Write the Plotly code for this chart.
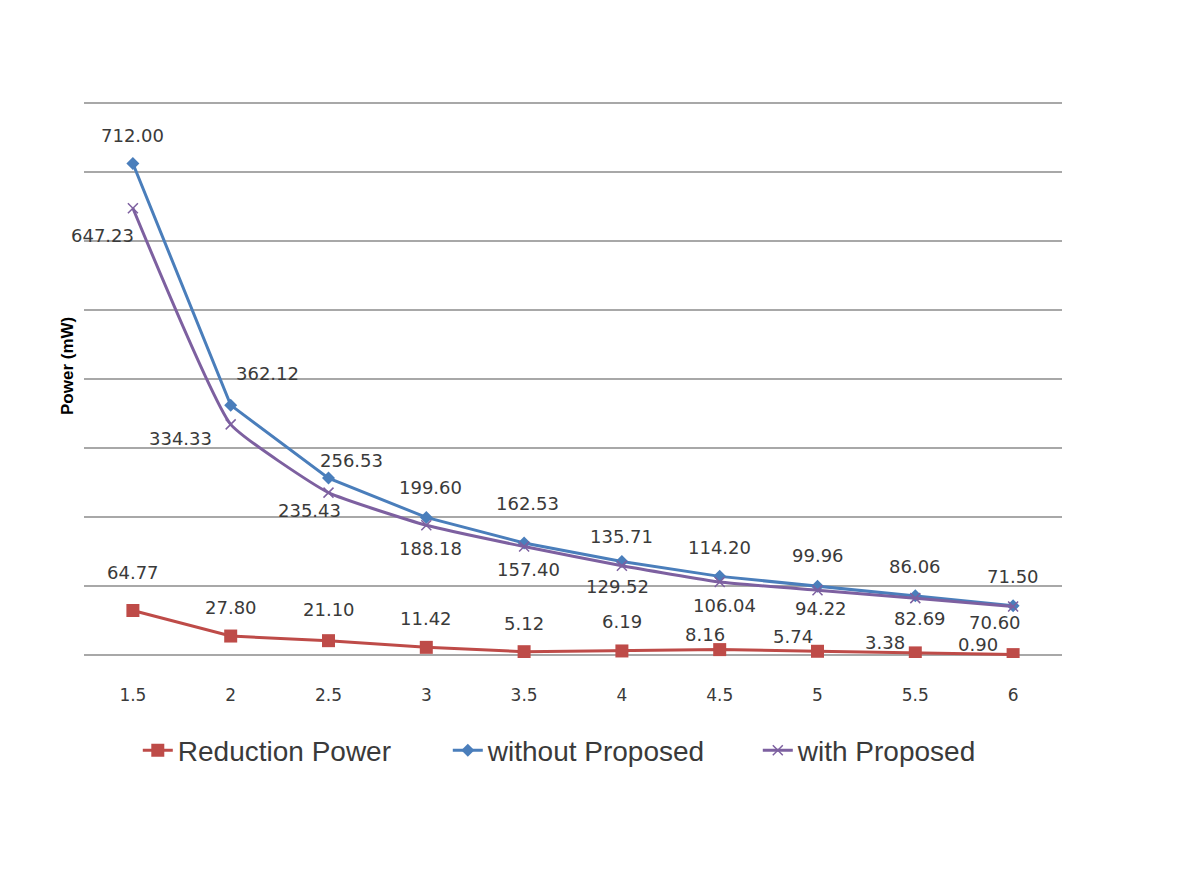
import plotly.graph_objects as go

categories = ["1.5", "2", "2.5", "3", "3.5", "4", "4.5", "5", "5.5", "6"]
reduction_power = [64.77, 27.80, 21.10, 11.42, 5.12, 6.19, 8.16, 5.74, 3.38, 0.90]
without_proposed = [712.00, 362.12, 256.53, 199.60, 162.53, 135.71, 114.20, 99.96, 86.06, 71.50]
with_proposed = [647.23, 334.33, 235.43, 188.18, 157.40, 129.52, 106.04, 94.22, 82.69, 70.60]

# label offsets in pixels (dx, dy with dy downward)
off_red = [(0, -38), (0, -29), (0, -31), (0, -29), (0, -28), (0, -29), (-15, -15), (-25, -15), (-30, -10), (-35, -10)]
off_blue = [(0, -28), (37, -32), (23, -18), (4, -30), (3, -40), (0, -25), (0, -29), (0, -31), (0, -29), (0, -29)]
off_purple = [(-30, 27), (-50, 14), (-19, 18), (4, 23), (4, 23), (-4, 21), (5, 23), (3, 18), (5, 20), (-18, 16)]

RED = "#be4b48"
BLUE = "#4a7ebb"
PURPLE = "#7d60a0"
TXT = "#3a3a3a"

fig = go.Figure()
fig.add_trace(go.Scatter(x=categories, y=reduction_power, name="Reduction Power", mode="lines+markers",
                         line=dict(color=RED, width=3), marker=dict(symbol="square", size=13, color=RED)))
fig.add_trace(go.Scatter(x=categories, y=without_proposed, name="without Proposed", mode="lines+markers",
                         line=dict(color=BLUE, width=3), marker=dict(symbol="diamond", size=10, color=BLUE)))
fig.add_trace(go.Scatter(x=categories, y=with_proposed, name="with Proposed", mode="lines+markers",
                         line=dict(color=PURPLE, width=3, shape="spline", smoothing=0.4),
                         marker=dict(symbol="x-thin", size=10, color=PURPLE, line=dict(color=PURPLE, width=1.5))))

annotations = []
for vals, offs in ((reduction_power, off_red), (without_proposed, off_blue), (with_proposed, off_purple)):
    for i, (v, (dx, dy)) in enumerate(zip(vals, offs)):
        annotations.append(dict(x=i, y=v, xref="x", yref="y", text=f"{v:.2f}", showarrow=False,
                                xanchor="center", yanchor="middle", xshift=dx, yshift=-dy,
                                font=dict(family="DejaVu Sans", size=18, color=TXT)))

annotations.append(dict(x=0, y=0.5, xref="paper", yref="paper", text="<b>Power (mW)</b>", showarrow=False,
                        textangle=-90, xanchor="center", yanchor="middle", xshift=-17, yshift=13,
                        font=dict(family="Liberation Sans", size=17, color="#000000")))

fig.update_layout(
    width=1200, height=872,
    margin=dict(l=76, r=146, t=92, b=222),
    paper_bgcolor="white", plot_bgcolor="white",
    showlegend=True,
    legend=dict(orientation="h", x=0.055, y=-0.166, xanchor="left", yanchor="middle",
                font=dict(family="Liberation Sans", size=28, color=TXT),
                entrywidth=265, entrywidthmode="pixels"),
    annotations=annotations,
)
fig.update_xaxes(type="category", range=[-0.5, 9.5], showgrid=False, zeroline=False, showline=False,
                 ticks="outside", ticklen=22, tickcolor="rgba(0,0,0,0)",
                 tickfont=dict(family="DejaVu Sans", size=17, color=TXT))
fig.update_yaxes(range=[-4, 804], dtick=100, tick0=0, showticklabels=False, showgrid=True,
                 gridcolor="#a8a8a8", gridwidth=2, zeroline=False, showline=False)

fig.write_html("out.html")
